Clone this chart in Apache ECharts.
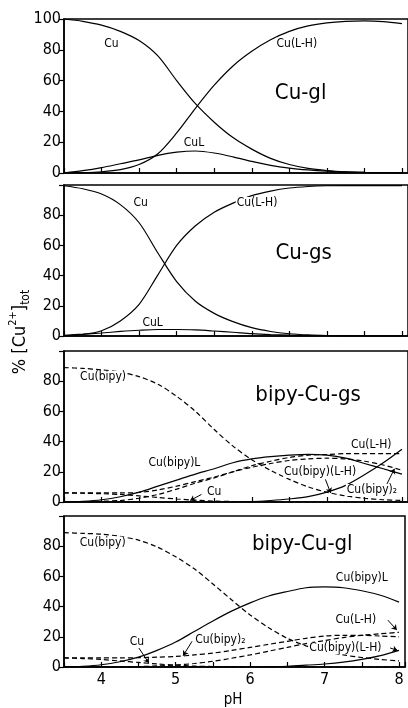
<!DOCTYPE html>
<html>
<head>
<meta charset="utf-8">
<script src="https://cdn.jsdelivr.net/npm/echarts@6/dist/echarts.min.js"></script>
<style>
  html, body { margin: 0; padding: 0; background: #fff; }
  #main { width: 408px; height: 708px; }
</style>
</head>
<body>
<div id="main"></div>
<script>
// pH grid for all curves
var pH = [3.5, 3.75, 4, 4.25, 4.5, 4.75, 5, 5.25, 5.5, 5.75, 6, 6.25, 6.5, 6.75, 7, 7.25, 7.5, 7.75, 8];

// Cu-gl
var glCu   = [100, 98.5, 96, 92, 86, 76, 60, 45, 33, 23, 15.5, 9.5, 5.5, 3, 1.6, 0.8, 0.4, 0.2, 0.1];
var glCuLH = [0, 0.2, 0.8, 2.2, 5.5, 12.5, 26, 42, 57, 69.5, 79, 86.5, 92, 95.5, 97.5, 98.5, 98.8, 98.3, 97];
var glCuL  = [0, 1.5, 3.5, 6, 8.5, 11.5, 13.5, 14.3, 13, 10.5, 7.5, 5, 3.2, 2, 1.2, 0.7, 0.4, 0.2, 0.1];

// Cu-gs
var gsCu   = [99.5, 97.5, 94, 87, 75, 55, 36, 23, 15, 9.5, 5.5, 3, 1.5, 0.7, 0.3, 0.1, 0, 0, 0];
var gsCuLH = [0.2, 1, 3.5, 10, 21, 40.5, 60, 73, 82, 88, 93, 96, 98, 99, 99.5, 99.6, 99.6, 99.6, 99.6];
var gsCuL  = [0.5, 1.2, 2, 3, 3.8, 4.3, 4.3, 4, 3.3, 2.5, 1.6, 1, 0.6, 0.3, 0.2, 0.1, 0, 0, 0];

// bipy-Cu-gs
var tsCuBipy   = [89, 88.5, 87.5, 86, 83, 78, 70, 60, 48, 37, 28, 21, 15, 10, 6.5, 4, 2.5, 1.5, 1];
var tsCuBipyL  = [0, 0.5, 1.5, 3.5, 6.5, 10.5, 14.5, 18.5, 22, 26, 28.5, 30, 31, 31.5, 31, 29, 25.5, 22, 18.5];
var tsCuLH     = [0, 0.2, 0.5, 1, 2.5, 5, 8.5, 12.5, 16, 20, 24, 27, 29.5, 31, 31.5, 32, 32, 32, 32];
var tsCuBipy2  = [6, 6, 6, 6, 6.3, 8, 10.5, 13.5, 16.5, 20, 23, 25.5, 27.5, 28.5, 29, 28.5, 27, 24.5, 21];
var tsCu       = [6, 5.8, 5.5, 5, 4, 3, 2, 1.2, 0.6, 0.3, 0.1, 0, 0, 0, 0, 0, 0, 0, 0];
var tsCuBipyLH = [0, 0, 0, 0, 0, 0, 0, 0, 0, 0, 0.3, 1, 2, 3.5, 6.5, 11, 18, 26, 35];

// bipy-Cu-gl
var tlCuBipy   = [89, 88.5, 88, 86.5, 84, 79.5, 73, 65, 55, 44.5, 34.5, 26, 19, 14, 10.5, 8, 6.3, 5, 4];
var tlCuBipyL  = [0, 0.5, 1.5, 3.5, 6.5, 11, 16.5, 23.5, 30.5, 37, 42.5, 47, 50, 52.5, 53, 52.5, 50.5, 47.5, 43];
var tlCuBipy2  = [6, 6, 6, 6, 6.2, 6.5, 7, 8, 9.2, 11, 13, 15, 17, 19, 20.5, 21, 21, 20.5, 20];
var tlCuLH     = [0, 0, 0, 0.1, 0.3, 0.7, 1.3, 2.3, 3.8, 5.8, 8, 10.5, 13, 15.5, 17.5, 19.5, 21, 22, 23];
var tlCu       = [6, 5.6, 5, 4, 3, 2, 1.2, 0.6, 0.3, 0.1, 0, 0, 0, 0, 0, 0, 0, 0, 0];
var tlCuBipyLH = [0, 0, 0, 0, 0, 0, 0, 0, 0, 0, 0, 0.2, 0.5, 1.2, 2, 3.2, 5, 7.5, 11];

var xTickLabels = ['4', '5', '6', '7', '8'];
var panelTitles = ['Cu-gl', 'Cu-gs', 'bipy-Cu-gs', 'bipy-Cu-gl'];

// curve labels: [panel, pH, value, text]
var curveLabels = [
  [0, 4.13, 84, 'Cu'], [0, 6.6, 84, 'Cu(L-H)'], [0, 5.23, 19.5, 'CuL'],
  [1, 4.52, 88, 'Cu'], [1, 6.07, 88, 'Cu(L-H)'], [1, 4.68, 8.6, 'CuL'],
  [2, 4.02, 83, 'Cu(bipy)'], [2, 4.97, 26, 'Cu(bipy)L'], [2, 5.5, 6.6, 'Cu'],
  [2, 7.59, 38, 'Cu(L-H)'], [2, 6.91, 20, 'Cu(bipy)(L-H)'], [2, 7.6, 8, 'Cu(bipy)₂'],
  [3, 4.02, 82.5, 'Cu(bipy)'], [3, 4.48, 16.5, 'Cu'], [3, 5.6, 18, 'Cu(bipy)₂'],
  [3, 7.5, 59, 'Cu(bipy)L'], [3, 7.42, 31, 'Cu(L-H)'], [3, 7.28, 12.6, 'Cu(bipy)(L-H)']
];
// pointer arrows: [panel, fromPH, fromVal, toPH, toVal]
var arrows = [
  [2, 5.33, 5, 5.18, 1],
  [2, 6.98, 15, 7.05, 6],
  [2, 7.8, 12, 7.9, 22],
  [3, 4.5, 13, 4.64, 2.6],
  [3, 5.22, 17, 5.1, 7.5],
  [3, 7.85, 31, 7.97, 24.5],
  [3, 7.88, 12.6, 7.98, 11]
];

var FONT = "'DejaVu Sans Condensed', 'Liberation Sans Narrow', 'DejaVu Sans', sans-serif";
var tops = [19, 185, 351, 516];
var heights = [154, 151, 151, 151];

var chart = echarts.init(document.getElementById('main'));

function pairs(ys) {
  return pH.map(function (x, i) { return [x, ys[i]]; });
}

var grids = [], xAxes = [], yAxes = [], series = [];
for (var g = 0; g < 4; g++) {
  grids.push({ left: 64, top: tops[g], width: 346, height: heights[g],
    show: true, borderColor: '#000', borderWidth: 1.5, backgroundColor: 'transparent' });
  xAxes.push({
    type: 'value', gridIndex: g, min: 3.5, max: 8.08, interval: 0.5,
    axisLine: { onZero: false, lineStyle: { color: '#000', width: 1.5 } },
    axisTick: { inside: true, length: 5, lineStyle: { color: '#000', width: 1.2 } },
    splitLine: { show: false },
    axisLabel: {
      show: g === 3, color: '#000', fontSize: 16, fontFamily: FONT, margin: 5,
      formatter: function (v) {
        var s = String(Math.round(v));
        return (Math.abs(v - Math.round(v)) < 1e-6 && xTickLabels.indexOf(s) >= 0) ? s : '';
      }
    }
  });
  yAxes.push({
    type: 'value', gridIndex: g, min: 0, max: 100, interval: 20,
    axisLine: { lineStyle: { color: '#000', width: 1.5 } },
    axisTick: { length: 5, lineStyle: { color: '#000', width: 1.2 } },
    splitLine: { show: false },
    axisLabel: {
      color: '#000', fontSize: 16, fontFamily: FONT, margin: 3,
      formatter: (function (gi) { return function (v) { return (gi > 0 && v === 100) ? '' : String(v); }; })(g)
    }
  });
}

function addLine(g, ys, dashed) {
  series.push({
    type: 'line', xAxisIndex: g, yAxisIndex: g, data: pairs(ys),
    showSymbol: false, smooth: 0.3, silent: true,
    lineStyle: { color: '#000', width: 1.2, type: dashed ? [5, 3] : 'solid' }
  });
}

addLine(0, glCu); addLine(0, glCuLH); addLine(0, glCuL);
addLine(1, gsCu); addLine(1, gsCuLH); addLine(1, gsCuL);
addLine(2, tsCuBipy, true); addLine(2, tsCuBipyL); addLine(2, tsCuLH, true);
addLine(2, tsCuBipy2, true); addLine(2, tsCu, true); addLine(2, tsCuBipyLH);
addLine(3, tlCuBipy, true); addLine(3, tlCuBipyL); addLine(3, tlCuBipy2, true);
addLine(3, tlCuLH, true); addLine(3, tlCu, true); addLine(3, tlCuBipyLH);

// arrows as markLines on an empty helper series per panel
for (var p = 0; p < 4; p++) {
  var md = arrows.filter(function (a) { return a[0] === p; }).map(function (a) {
    return [{ coord: [a[1], a[2]] }, { coord: [a[3], a[4]] }];
  });
  if (md.length) {
    series.push({
      type: 'line', xAxisIndex: p, yAxisIndex: p, data: [], silent: true,
      markLine: { symbol: ['none', 'arrow'], symbolSize: 5, silent: true, animation: false,
        label: { show: false }, lineStyle: { color: '#000', width: 1, type: 'solid' }, data: md }
    });
  }
}

chart.setOption({
  animation: false,
  backgroundColor: '#fff',
  grid: grids, xAxis: xAxes, yAxis: yAxes, series: series
});

var graphics = [];
var titlePos = [[6.65, 52], [6.69, 55], [6.75, 71], [6.7, 81]];
panelTitles.forEach(function (t, i) {
  var pt = chart.convertToPixel({ gridIndex: i }, titlePos[i]);
  graphics.push({ type: 'text', x: pt[0], y: pt[1], z: 10,
    style: { text: t, font: '22px ' + FONT, fill: '#000', textAlign: 'center', textVerticalAlign: 'middle' } });
});
curveLabels.forEach(function (l) {
  var pt = chart.convertToPixel({ gridIndex: l[0] }, [l[1], l[2]]);
  graphics.push({ type: 'text', x: pt[0], y: pt[1], z: 10,
    style: { text: l[3], font: '12px ' + FONT, fill: '#000', textAlign: 'center', textVerticalAlign: 'middle',
      backgroundColor: '#fff', padding: [0, 1] } });
});
graphics.push({ type: 'text', x: 20, y: 332, rotation: Math.PI / 2, z: 10,
  style: {
    text: '{a|% [Cu}{sup|2+}{a|]}{sub|tot}', textAlign: 'center', textVerticalAlign: 'middle', fill: '#000',
    rich: {
      a: { fontSize: 18, fontFamily: FONT, lineHeight: 24, verticalAlign: 'middle' },
      sup: { fontSize: 11, fontFamily: FONT, lineHeight: 24, verticalAlign: 'top', padding: [0, 0, 8, 0] },
      sub: { fontSize: 12, fontFamily: FONT, lineHeight: 24, verticalAlign: 'bottom', padding: [6, 0, 0, 0] }
    }
  } });
graphics.push({ type: 'text', x: 233, y: 700, z: 10,
  style: { text: 'pH', font: '15px ' + FONT, fill: '#000', textAlign: 'center', textVerticalAlign: 'middle' } });

chart.setOption({ graphic: graphics });
</script>
</body>
</html>
